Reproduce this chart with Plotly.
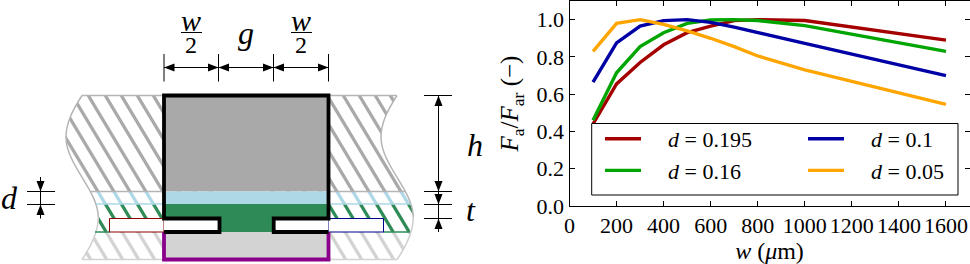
import plotly.graph_objects as go

W, H = 970, 264
FONT = "Liberation Serif"

# ---------- chart data ----------
w_um = [100, 200, 300, 400, 500, 600, 700, 800, 1000, 1600]
d_195 = [0.44, 0.655, 0.77, 0.865, 0.93, 0.965, 0.995, 1.0, 0.995, 0.89]
d_160 = [0.46, 0.715, 0.855, 0.93, 0.98, 0.998, 1.0, 0.995, 0.968, 0.83]
d_100 = [0.665, 0.875, 0.965, 0.995, 1.0, 0.985, 0.96, 0.93, 0.873, 0.70]
d_050 = [0.83, 0.98, 1.0, 0.975, 0.94, 0.90, 0.855, 0.805, 0.73, 0.545]
series_names = ["d = 0.195", "d = 0.16", "d = 0.1", "d = 0.05"]

# ---------- schematic geometry (schematic units, y down) ----------
bands = [(95.5, 191.5, "#a9a9a9"), (191.5, 204, "#add8e6"),
         (204, 232, "#2e8b57"), (232, 259.5, "#d3d3d3")]
hatch_left = [-72, -56, -40, -24, -8, 8, 24, 40, 56, 72, 88, 105, 121, 137, 153]
hatch_right = [215, 231, 247, 263, 279, 295, 311, 327, 343, 359, 375, 390]
HATCH_SLOPE = 0.6
wave_left = [(82, 95.5), (74, 108), (66, 122), (66, 137), (66, 165), (98, 190),
             (98.3, 217), (98.3, 232), (92, 245), (82, 259.5)]
WAVE_SHIFT = 315
dim_segments = [
    (164, 54, 164, 81.5), (218.5, 54, 218.5, 81.5), (273.5, 54, 273.5, 81.5),
    (328.5, 54, 328.5, 81.5), (164, 67.5, 328.5, 67.5),
    (424, 95.5, 452, 95.5), (424, 191.5, 452, 191.5), (424, 204.5, 452, 204.5),
    (424, 218.5, 452, 218.5), (438.5, 95.5, 438.5, 232),
    (27, 191.5, 55, 191.5), (27, 204.5, 55, 204.5), (40.5, 177, 40.5, 218.5),
    (181, 32.5, 202, 32.5), (291, 32.5, 312, 32.5),
]
# tip x, tip y, direction x, direction y
arrows = [
    (164, 67.5, -1, 0), (218.5, 67.5, 1, 0), (218.5, 67.5, -1, 0), (273.5, 67.5, 1, 0),
    (273.5, 67.5, -1, 0), (328.5, 67.5, 1, 0),
    (438.5, 95.5, 0, -1), (438.5, 191.5, 0, 1), (438.5, 204.5, 0, 1), (438.5, 218.5, 0, -1),
    (40.5, 191.5, 0, 1), (40.5, 204.5, 0, -1),
]
labels = [
    (191, 20, "<i>w</i>", 30), (191, 45, "2", 24), (301, 20, "<i>w</i>", 30), (301, 45, "2", 24),
    (246, 33, "<i>g</i>", 32), (475, 145, "<i>h</i>", 32), (471, 210, "<i>t</i>", 32), (9, 198, "<i>d</i>", 32),
]


def bez(pts, dx=0):
    p = [(x + dx, y) for x, y in pts]
    s = f"M{p[0][0]},{p[0][1]}"
    for i in range(1, len(p), 3):
        s += " C" + " ".join(f"{x},{y}" for x, y in p[i:i + 3])
    return s


def rect(x0, y0, x1, y1):
    return f"M{x0},{y0} L{x1},{y0} L{x1},{y1} L{x0},{y1} Z"


def sh(path, fill=None, color=None, width=0):
    return dict(type="path", path=path, xref="x2", yref="y2", layer="above",
                fillcolor=fill or "rgba(0,0,0,0)",
                line=dict(color=color or "rgba(0,0,0,0)", width=width))


fig = go.Figure()

# schematic hatching
for y0, y1, col in bands:
    xs, ys = [], []
    for a in hatch_left + hatch_right:
        xs += [a + HATCH_SLOPE * (y0 - 95), a + HATCH_SLOPE * (y1 - 95), None]
        ys += [y0, y1, None]
    fig.add_trace(go.Scatter(x=xs, y=ys, xaxis="x2", yaxis="y2", mode="lines", showlegend=False,
                             hoverinfo="skip", line=dict(color=col, width=3.4)))

shapes = []
# masks beyond the wavy edges
shapes.append(sh(bez(wave_left) + " L82,262 L0,262 L0,92 L82,92 Z", fill="white"))
shapes.append(sh(bez(wave_left, WAVE_SHIFT) + " L397,262 L500,262 L500,92 L397,92 Z", fill="white"))
# central layers
for y0, y1, col in bands:
    shapes.append(sh(rect(164, y0, 328.5, y1), fill=col))
# outlines of side regions
for dx in (0, WAVE_SHIFT):
    shapes.append(sh(bez(wave_left[:7], dx), color="#b5b5b5", width=1.5))
    shapes.append(sh(bez(wave_left[6:], dx), color="#cfcfcf", width=1.5))
for x0, x1, y, col in [
    (82, 164, 95.5, "#b5b5b5"), (328, 397, 95.5, "#b5b5b5"),
    (91, 164, 191.5, "#b5b5b5"), (328, 406, 191.5, "#b5b5b5"),
    (96, 164, 204, "#add8e6"), (328, 411, 204, "#add8e6"),
    (95, 110, 232, "#2e8b57"), (383, 410, 232, "#2e8b57"),
    (82, 164, 259.5, "#d3d3d3"), (328, 397, 259.5, "#d3d3d3"),
]:
    shapes.append(sh(f"M{x0},{y} L{x1},{y}", color=col, width=1.5))
# slot and outlines
shapes.append(sh(rect(109.5, 218.5, 164, 232), fill="white", color="#8b0000", width=1))
shapes.append(sh(rect(328.5, 218.5, 383.5, 232), fill="white", color="#00008b", width=1))
shapes.append(sh(rect(164, 218.5, 219.5, 232), fill="white"))
shapes.append(sh(rect(273.7, 218.5, 328.5, 232), fill="white"))
shapes.append(sh("M164,232 L164,259.5 L328.5,259.5 L328.5,232", color="#8b008b", width=3.8))
shapes.append(sh("M164,232 L219.5,232 L219.5,218.5 L164,218.5 L164,95.5 L328.5,95.5 L328.5,218.5 "
                 "L273.7,218.5 L273.7,232 L328.5,232", color="black", width=3.8))
# dimensions
for x0, y0, x1, y1 in dim_segments:
    shapes.append(sh(f"M{x0},{y0} L{x1},{y1}", color="black", width=1))
for x, y, ux, uy in arrows:
    bx, by = x - ux * 10.5, y - uy * 10.5
    shapes.append(sh(f"M{x},{y} L{bx - uy * 4},{by - ux * 4} L{bx + uy * 4},{by + ux * 4} Z", fill="black"))
# legend box, above the curves
BOX = (591.7, 123.5, 958, 195)
shapes.append(dict(type="rect", xref="paper", yref="paper", layer="above",
                   x0=BOX[0] / W, x1=BOX[2] / W, y0=1 - BOX[3] / H, y1=1 - BOX[1] / H,
                   fillcolor="white", line=dict(color="black", width=1)))

# chart curves
for vals, name, col, lg in [(d_195, series_names[0], "#a50000", "legend"),
                            (d_160, series_names[1], "#00a500", "legend"),
                            (d_100, series_names[2], "#0000a5", "legend2"),
                            (d_050, series_names[3], "#ffa500", "legend2")]:
    nm = "\u00a0\u00a0\u00a0\u00a0<i>d</i> " + name[2:]
    fig.add_trace(go.Scatter(x=w_um, y=vals, mode="lines", name=nm, legend=lg, legendgroup=name,
                             line=dict(color=col, width=3.4)))

legend_style = dict(bgcolor="rgba(0,0,0,0)", borderwidth=0, font=dict(family=FONT, size=22, color="black"),
                    itemwidth=36, tracegroupgap=0, traceorder="grouped", xanchor="left", yanchor="top",
                    itemclick=False, itemdoubleclick=False)

annotations = [dict(x=x, y=y, xref="x2", yref="y2", text=t, showarrow=False,
                    font=dict(family=FONT, size=s, color="black"), xanchor="center", yanchor="middle")
               for x, y, t, s in labels]

fig.update_layout(
    width=W, height=H, margin=dict(l=0, r=0, t=0, b=0), autosize=False,
    paper_bgcolor="white", plot_bgcolor="white", showlegend=True,
    shapes=shapes, annotations=annotations,
    legend=dict(x=600 / W, y=1 - 118 / H, **legend_style),
    legend2=dict(x=803 / W, y=1 - 118 / H, **legend_style),
    xaxis=dict(domain=[569.5 / W, 969.5 / W], range=[0, 1700], dtick=200, tick0=0, ticks="inside", ticklen=5,
               tickwidth=1, tickcolor="black", showgrid=False, zeroline=False, showline=True, linecolor="black",
               linewidth=1, mirror="ticks", automargin=False, tickfont=dict(family=FONT, size=22, color="black"),
               title=dict(text="<i>w</i> (<i>\u03bc</i>m)", standoff=6, font=dict(family=FONT, size=24, color="black"))),
    yaxis=dict(domain=[1 - 206 / H, 1 - 1 / H], range=[0, 1.1], dtick=0.2, tick0=0, tickformat=".1f", ticks="inside",
               ticklen=5, tickwidth=1, tickcolor="black", showgrid=False, zeroline=False, showline=True,
               linecolor="black", linewidth=1, mirror="ticks", automargin=False,
               tickfont=dict(family=FONT, size=22, color="black"),
               title=dict(text="<i>F</i><sub>a</sub>/<i>F</i><sub>ar</sub> (\u2212)", standoff=10,
                          font=dict(family=FONT, size=25, color="black"))),
    xaxis2=dict(domain=[0, 500 / W], range=[0, 500], visible=False, anchor="y2", fixedrange=True),
    yaxis2=dict(domain=[0, 1], range=[264, 0], visible=False, anchor="x2", fixedrange=True),
)

fig.write_html("out.html", config=dict(displayModeBar=False), post_script="document.body.style.margin='0';")
